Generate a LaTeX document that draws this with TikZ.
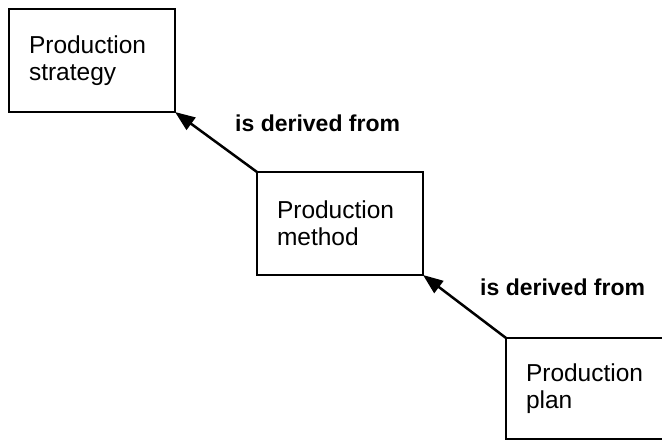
\documentclass[tikz,border=0pt]{standalone}
\usepackage{fontspec}
\setmainfont{Liberation Sans}
\usetikzlibrary{arrows.meta}
\begin{document}
\begin{tikzpicture}[x=1pt,y=-1pt,
  box/.style={draw=black, line width=2pt, fill=white, outer sep=0pt,
    minimum height=103pt, text width=126pt, inner xsep=20pt, align=left,
    anchor=north west, font=\fontsize{24.5}{27}\selectfont},
  rel/.style={font=\bfseries\fontsize{23}{27}\selectfont, anchor=base west, inner sep=0pt},
  derive/.style={line width=2.5pt, -{Triangle[length=20pt,width=15pt]}}]
\useasboundingbox (0,0) rectangle (662,441);
\clip (0,0) rectangle (662,441);
\node[box] (b1) at (9,9) {Production\\strategy};
\node[box] (b2) at (257,172) {Production\\method};
\node[box, minimum height=101pt] (b3) at (506,338) {Production\\plan};
\draw[derive] (b2.north west) -- (b1.south east);
\draw[derive] (b3.north west) -- (b2.south east);
\node[rel] (l1) at (235,132) {is derived from};
\node[rel] (l2) at (480,295) {is derived from};
\end{tikzpicture}
\end{document}
